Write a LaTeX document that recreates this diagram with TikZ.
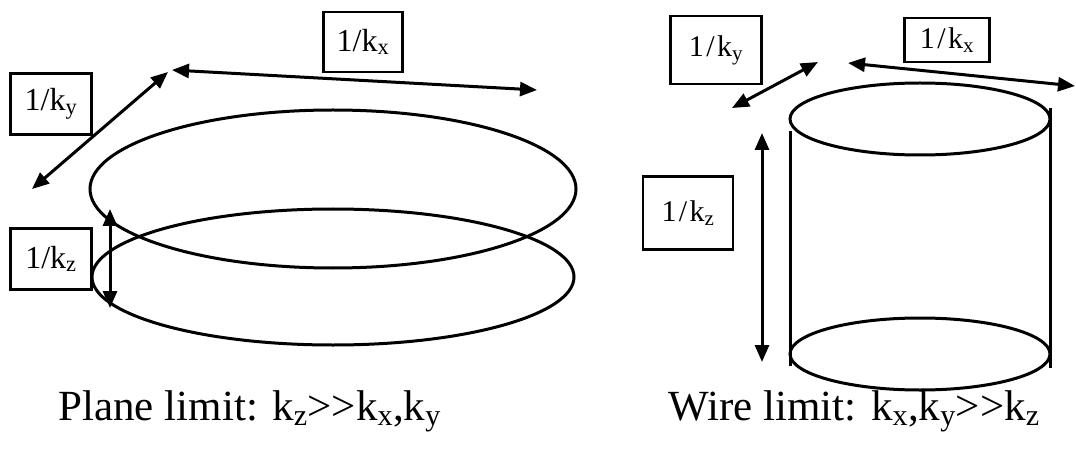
\documentclass[tikz,border=0pt]{standalone}
\usepackage{fontspec}
\setmainfont{Liberation Serif}
\newfontfamily\spacedfont[LetterSpace=8]{Liberation Serif}
\usetikzlibrary{arrows.meta,shapes.geometric}
\begin{document}
\begin{tikzpicture}[x=1pt,y=-1pt,
  lbl/.style={draw,line width=2.2pt,inner sep=0pt,font=\fontsize{32}{34}\selectfont},
  slbl/.style={draw,line width=2.2pt,inner sep=0pt,font=\spacedfont\fontsize{30}{32}\selectfont},
  dim/.style={{Triangle[length=17pt,width=14pt]}-{Triangle[length=17pt,width=14pt]},line width=3pt},
  ring/.style={draw,ellipse,line width=3pt,inner sep=0pt},
  wall/.style={line width=3pt},
  caption/.style={font=\fontsize{43}{50}\selectfont,anchor=base west}]
\useasboundingbox (0,0) rectangle (1076,449);
% ---------- left: plane limit ----------
\node[ring,minimum width=486pt,minimum height=158pt] (upper) at (333,189) {};
\node[ring,minimum width=482pt,minimum height=136pt] (lower) at (333,277) {};
\node[lbl,minimum width=79pt,minimum height=60pt] (lkx) at (363,42) {1/k\textsubscript{x}};
\node[lbl,minimum width=81pt,minimum height=61pt] (lky) at (51,104) {1/k\textsubscript{y}};
\node[lbl,minimum width=81pt,minimum height=61pt] (lkz) at (51,259) {1/k\textsubscript{z}};
\coordinate (lya) at (168,72);
\coordinate (lyb) at (32,189);
\coordinate (lxa) at (172,70);
\coordinate (lxb) at (537,90);
\coordinate (lza) at (110,209);
\coordinate (lzb) at (110,308);
\draw[dim] (lya) -- (lyb);
\draw[dim] (lxa) -- (lxb);
\draw[dim] (lza) -- (lzb);
\node[caption] (plane) at (55,420) {Plane limit: k\textsubscript{z}>{}>k\textsubscript{x},k\textsubscript{y}};
% ---------- right: wire limit ----------
\node[ring,minimum width=260pt,minimum height=72pt] (top) at (920,119) {};
\node[ring,minimum width=260pt,minimum height=72pt] (bot) at (920,354) {};
\coordinate (wl1) at (790,131);
\coordinate (wl2) at (790,366);
\coordinate (wr1) at (1050,108);
\coordinate (wr2) at (1050,368);
\draw[wall] (wl1) -- (wl2);
\draw[wall] (wr1) -- (wr2);
\node[slbl,minimum width=91pt,minimum height=68pt] (rky) at (716,50) {1/k\textsubscript{y}};
\node[slbl,minimum width=85pt,minimum height=44pt] (rkx) at (947,40) {1/k\textsubscript{x}};
\node[slbl,minimum width=90pt,minimum height=73pt] (rkz) at (688,213) {1/k\textsubscript{z}};
\coordinate (rya) at (818,62);
\coordinate (ryb) at (732,108);
\coordinate (rxa) at (848,63);
\coordinate (rxb) at (1075,86);
\coordinate (rza) at (762,133);
\coordinate (rzb) at (762,362);
\draw[dim] (rya) -- (ryb);
\draw[dim] (rxa) -- (rxb);
\draw[dim] (rza) -- (rzb);
\node[caption] (wire) at (665,420) {Wire limit: k\textsubscript{x},k\textsubscript{y}>{}>k\textsubscript{z}};
\end{tikzpicture}
\end{document}
